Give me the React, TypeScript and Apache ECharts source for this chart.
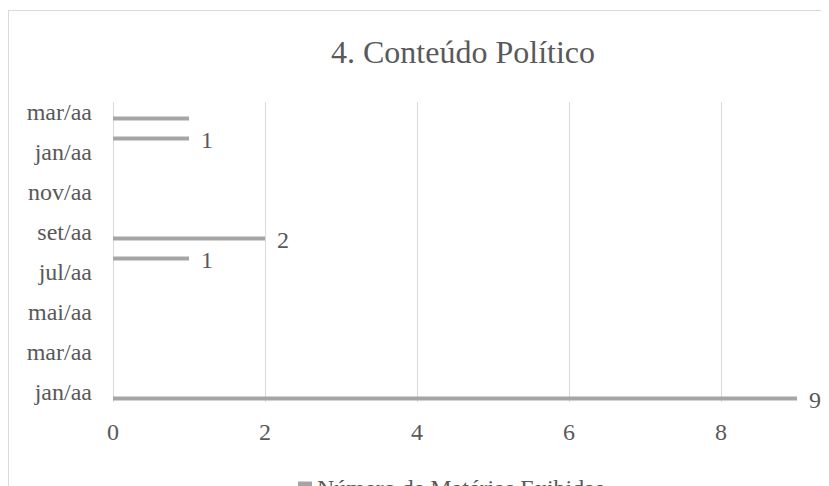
import React, { useEffect, useRef } from "react";
import * as echarts from "echarts";

const title = "4. Conteúdo Político";
const seriesName = "Número de Matérias Exibidas";
const months = [
  "jan/aa", "fev/aa", "mar/aa", "abr/aa", "mai/aa", "jun/aa", "jul/aa", "ago/aa",
  "set/aa", "out/aa", "nov/aa", "dez/aa", "jan/aa", "fev/aa", "mar/aa",
];
const values: (number | null)[] = [9, null, null, null, null, null, null, 1, 2, null, null, null, null, 1, 1];
const hiddenLabelIdx = [14];
const xTicks = { min: 0, max: 10, interval: 2 };

const FONT = "Liberation Serif";
const TEXT = "#595959";

export default function App() {
  const ref = useRef<HTMLDivElement>(null);
  useEffect(() => {
    if (!ref.current) return;
    const chart = echarts.init(ref.current, null, { renderer: "svg" });
    chart.setOption({
      animation: false,
      textStyle: { fontFamily: FONT },
      title: {
        text: title,
        left: "center",
        top: 28,
        padding: 0,
        textStyle: { fontFamily: FONT, fontSize: 32, fontWeight: "normal", color: TEXT },
      },
      legend: {
        data: [seriesName],
        left: 290,
        top: 468,
        padding: 0,
        icon: "rect",
        itemWidth: 14,
        itemHeight: 13,
        itemGap: 5,
        textStyle: { fontFamily: FONT, fontSize: 24, color: TEXT },
      },
      grid: { left: 105, top: 94, width: 760, height: 300, containLabel: false },
      xAxis: {
        type: "value",
        min: xTicks.min,
        max: xTicks.max,
        interval: xTicks.interval,
        axisLine: { show: false },
        axisTick: { show: false },
        axisLabel: { fontFamily: FONT, fontSize: 24, color: TEXT, margin: 18, showMaxLabel: false },
        splitLine: { lineStyle: { color: "#d9d9d9", width: 1 } },
      },
      yAxis: {
        type: "category",
        data: months,
        axisLine: { show: false },
        axisTick: { show: false },
        axisLabel: { interval: 1, fontFamily: FONT, fontSize: 24, color: TEXT, margin: 21 },
        splitLine: { show: false },
      },
      series: [
        {
          name: "_spacer",
          type: "bar",
          barWidth: 4,
          barGap: "225%",
          data: values.map(() => null),
        },
        {
          name: seriesName,
          type: "bar",
          barWidth: 4,
          barGap: "225%",
          itemStyle: { color: "#a5a5a5" },
          label: {
            show: true,
            position: "right",
            distance: 12,
            fontFamily: FONT,
            fontSize: 24,
            color: TEXT,
            offset: [0, 1],
          },
          data: values.map((v, i) =>
            hiddenLabelIdx.includes(i) ? { value: v, label: { show: false } } : v
          ),
        },
      ],
    });
    return () => chart.dispose();
  }, []);
  return (
    <div style={{ width: 821, height: 478, overflow: "hidden", position: "relative" }}>
      <div
        style={{
          position: "absolute",
          left: 0,
          top: 2,
          width: 1000,
          height: 520,
          border: "1.5px solid #d9d9d9",
          boxSizing: "border-box",
          pointerEvents: "none",
        }}
      />
      <div ref={ref} style={{ width: 910, height: 500, position: "relative" }} />
    </div>
  );
}
